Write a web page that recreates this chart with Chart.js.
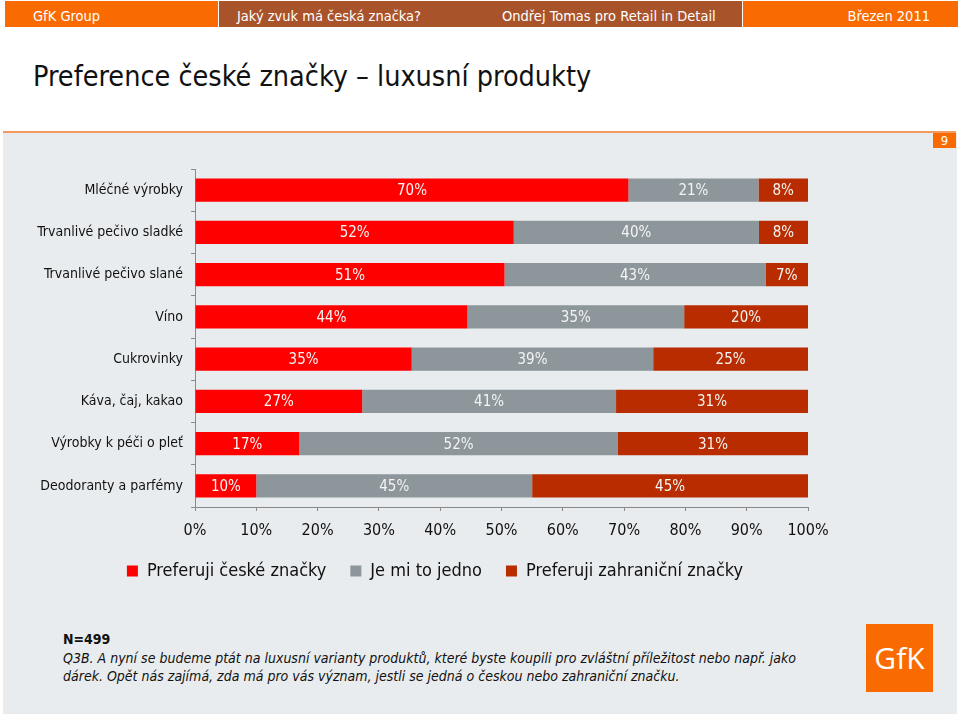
<!DOCTYPE html>
<html>
<head>
<meta charset="utf-8">
<script src="https://cdn.jsdelivr.net/npm/chart.js@4.4.1/dist/chart.umd.min.js"></script>
<style>
  body { margin: 0; width: 960px; height: 716px; position: relative; background: #fff; overflow: hidden;
         font-family: "DejaVu Sans Condensed", "DejaVu Sans", sans-serif; }
  .hdr { position: absolute; top: 1px; height: 26px; color: #fff; font-size: 14.5px; line-height: 30px; }
  .title { position: absolute; left: 33px; top: 60px; font-size: 28.5px; color: #111; }
  .rule { position: absolute; left: 3px; top: 131px; width: 953px; height: 2px; background: #f29a62; }
  .panel { position: absolute; left: 3px; top: 133px; width: 954px; height: 581px; background: #e9ecee; }
  .pg { position: absolute; left: 933px; top: 133px; width: 23px; height: 15px; background: #f96b00;
        color: #fff; font-size: 13px; line-height: 15px; text-align: center; }
  #wrap { position: absolute; left: 0; top: 150px; width: 870px; height: 440px; }
  .note { position: absolute; left: 63px; font-size: 14px; color: #111; }
  .logo { position: absolute; left: 866px; top: 624px; width: 67px; height: 68px; background: #f96b00;
          color: #fff; font-size: 30px; line-height: 68px; text-align: center; font-family: "Open Sans", sans-serif; }
</style>
</head>
<body>
<div class="hdr" style="left:5px;width:213px;background:#f96b00;"><span style="padding-left:28px">GfK Group</span></div>
<div class="hdr" style="left:219px;width:523px;background:#a9532b;">
  <span style="position:absolute;left:18px">Jaký zvuk má česká značka?</span>
  <span style="position:absolute;left:283px">Ondřej Tomas pro Retail in Detail</span>
</div>
<div class="hdr" style="left:743px;width:215px;background:#f96b00;"><span style="position:absolute;right:28px">Březen 2011</span></div>

<div class="title">Preference české značky – luxusní produkty</div>
<div class="rule"></div>
<div class="panel"></div>
<div class="pg">9</div>

<div id="wrap"><canvas id="chart"></canvas></div>

<div class="note" style="top:631px;font-weight:bold;">N=499</div>
<div class="note" style="top:649px;font-style:italic;width:770px;line-height:18px;">Q3B. A nyní se budeme ptát na luxusní varianty produktů, které byste koupili pro zvláštní příležitost nebo např. jako dárek. Opět nás zajímá, zda má pro vás význam, jestli se jedná o českou nebo zahraniční značku.</div>
<div class="logo">GfK</div>

<script>
const categories = [
  'Mléčné výrobky',
  'Trvanlivé pečivo sladké',
  'Trvanlivé pečivo slané',
  'Víno',
  'Cukrovinky',
  'Káva, čaj, kakao',
  'Výrobky k péči o pleť',
  'Deodoranty a parfémy'
];
const czech = [70, 52, 51, 44, 35, 27, 17, 10];
const indifferent = [21, 40, 43, 35, 39, 41, 52, 45];
const foreign = [8, 8, 7, 20, 25, 31, 31, 45];
const xTicks = [0, 10, 20, 30, 40, 50, 60, 70, 80, 90, 100];

const FONT = '"DejaVu Sans Condensed", "DejaVu Sans", sans-serif';

// 100% stacked: each row is scaled to its own total
const totals = categories.map((c, i) => czech[i] + indifferent[i] + foreign[i]);
const share = arr => arr.map((v, i) => v / totals[i] * 100);

const series = [
  { label: 'Preferuji české značky', values: czech, color: '#ff0000' },
  { label: 'Je mi to jedno', values: indifferent, color: '#8c969b' },
  { label: 'Preferuji zahraniční značky', values: foreign, color: '#b82c00' }
];

const barLabels = {
  id: 'barLabels',
  afterDatasetsDraw(chart) {
    const ctx = chart.ctx;
    ctx.save();
    ctx.font = '15px ' + FONT;
    ctx.fillStyle = '#f4f4f4';
    ctx.textAlign = 'center';
    ctx.textBaseline = 'middle';
    chart.data.datasets.forEach((ds, di) => {
      chart.getDatasetMeta(di).data.forEach((bar, i) => {
        ctx.fillText(ds.raw[i] + '%', (bar.x + bar.base) / 2, bar.y + 1);
      });
    });
    ctx.restore();
  }
};

// legend in the original sits a bit right of the plot centre
const legendShift = {
  id: 'legendShift',
  afterLayout(chart) {
    chart.legend.left += 31;
    chart.legend.right += 31;
  }
};

new Chart(document.getElementById('chart'), {
  type: 'bar',
  data: {
    labels: categories,
    datasets: series.map(s => ({
      label: s.label,
      data: share(s.values),
      raw: s.values,
      backgroundColor: s.color,
      borderWidth: 0,
      barPercentage: 0.545,
      categoryPercentage: 1
    }))
  },
  options: {
    indexAxis: 'y',
    responsive: true,
    maintainAspectRatio: false,
    animation: false,
    layout: { padding: { top: 19, right: 62, bottom: 0, left: 0 } },
    scales: {
      x: {
        stacked: true,
        min: 0,
        max: 100,
        afterBuildTicks: scale => { scale.ticks = xTicks.map(v => ({ value: v })); },
        afterFit: scale => { scale.height = 31; },
        border: { color: '#8a8a8a' },
        grid: { drawOnChartArea: false, color: '#8a8a8a', tickLength: 4 },
        ticks: { color: '#111', font: { size: 16, family: FONT }, padding: 10, callback: v => v + '%' }
      },
      y: {
        stacked: true,
        afterFit: scale => { scale.width = 195; },
        border: { color: '#8a8a8a' },
        grid: { drawOnChartArea: false, offset: true, color: '#8a8a8a', tickLength: 4 },
        ticks: { color: '#111', font: { size: 14, family: FONT }, padding: 8 }
      }
    },
    plugins: {
      legend: {
        position: 'bottom',
        labels: {
          boxWidth: 11,
          boxHeight: 11,
          padding: 24,
          color: '#111',
          font: { size: 18, family: FONT }
        }
      },
      tooltip: { enabled: false }
    }
  },
  plugins: [barLabels, legendShift]
});
</script>
</body>
</html>
